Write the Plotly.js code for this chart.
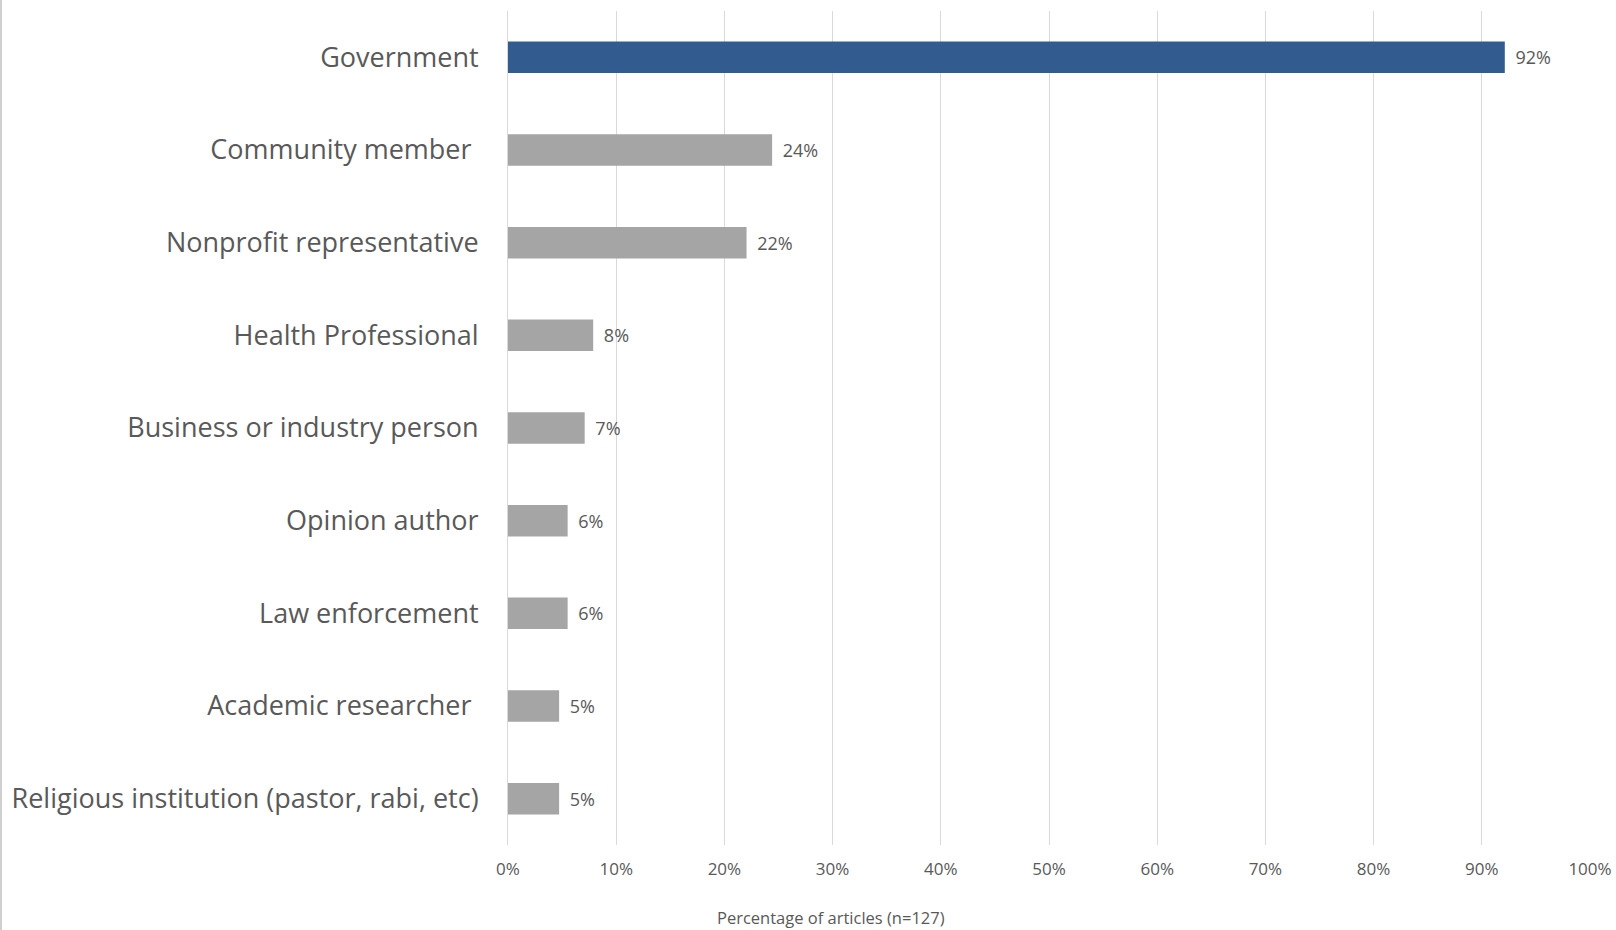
<!DOCTYPE html>
<html>
<head>
<meta charset="utf-8">
<script src="https://cdn.plot.ly/plotly-3.0.1.min.js"></script>
<style>
html,body{margin:0;padding:0;background:#fff;}
#chart{width:1616px;height:930px;}
#edge{position:absolute;left:0;top:0;width:2px;height:930px;background:#cfcfcf;}
</style>
</head>
<body>
<div id="chart"></div>
<div id="edge"></div>
<script>
const categories = [
  "Government",
  "Community member\u00a0",
  "Nonprofit representative",
  "Health Professional",
  "Business or industry person",
  "Opinion author",
  "Law enforcement",
  "Academic researcher\u00a0",
  "Religious institution (pastor, rabi, etc)"
];
const articleCounts = [117, 31, 28, 10, 9, 7, 7, 6, 6];
const totalArticles = 127;
const barColors = ["#325c8f", "#a5a5a5", "#a5a5a5", "#a5a5a5", "#a5a5a5", "#a5a5a5", "#a5a5a5", "#a5a5a5", "#a5a5a5"];
const tickValues = [0, 0.1, 0.2, 0.3, 0.4, 0.5, 0.6, 0.7, 0.8, 0.9, 1.0];
const tickLabels = ["0%", "10%", "20%", "30%", "40%", "50%", "60%", "70%", "80%", "90%", "100%"];
const axisTitle = "Percentage of articles (n=127)";

const shares = articleCounts.map(c => c / totalArticles);
const labels = shares.map(s => "\u00a0\u2009" + Math.round(s * 100) + "%");

const FONT = "'Open Sans', 'Noto Sans', sans-serif";

const trace = {
  type: "bar",
  orientation: "h",
  y: categories,
  x: shares,
  marker: {color: barColors, line: {width: 0}},
  width: 0.34,
  text: labels,
  textposition: "outside",
  cliponaxis: false,
  textfont: {family: FONT, size: 18, color: "#595959"},
  hoverinfo: "y+x"
};

const layout = {
  width: 1616,
  height: 930,
  margin: {l: 508, r: 26, t: 11, b: 85},
  paper_bgcolor: "#ffffff",
  plot_bgcolor: "#ffffff",
  showlegend: false,
  font: {family: FONT, color: "#595959"},
  xaxis: {
    range: [0, 1],
    tickvals: tickValues,
    ticktext: tickLabels,
    showgrid: true,
    gridcolor: "#d9d9d9",
    gridwidth: 1,
    zeroline: false,
    showline: false,
    ticks: "",
    tickfont: {size: 17, color: "#595959"},
    ticklabelstandoff: 12,
    fixedrange: true
  },
  yaxis: {
    autorange: "reversed",
    type: "category",
    showgrid: false,
    zeroline: false,
    showline: true,
    linecolor: "#d9d9d9",
    linewidth: 1,
    ticks: "",
    tickfont: {size: 27, color: "#595959"},
    ticklabelstandoff: 23,
    fixedrange: true
  },
  annotations: [{
    text: axisTitle,
    xref: "paper", yref: "paper",
    x: 0.2985, y: -0.0875,
    xanchor: "center", yanchor: "middle",
    showarrow: false,
    font: {family: FONT, size: 16.5, color: "#595959"}
  }]
};

Plotly.newPlot("chart", [trace], layout, {displayModeBar: false, staticPlot: true});
</script>
</body>
</html>
